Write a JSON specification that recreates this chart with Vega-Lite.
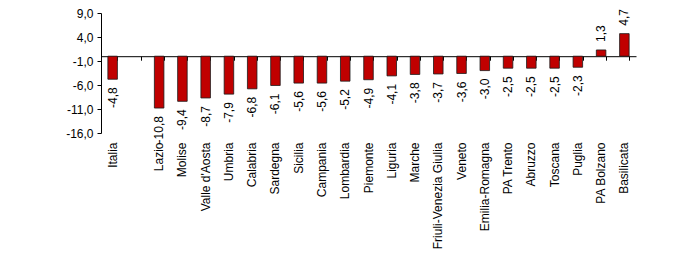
{
  "$schema": "https://vega.github.io/schema/vega-lite/v6.json",
  "width": 535,
  "height": 120,
  "autosize": "none",
  "padding": {"left": 101, "top": 13, "right": 64, "bottom": 127},
  "background": "white",
  "config": {
    "view": {"stroke": null},
    "font": "Liberation Sans",
    "axis": {"labelOverlap": false},
    "axisY": {"labelOverlap": false, "labelFlush": false},
    "locale": {"number": {"decimal": ",", "thousands": ".", "grouping": [3], "currency": ["", " €"], "minus": "-"}}
  },
  "data": {"values": [
    {"regione": "Italia", "valore": -4.8},
    {"regione": "Lazio", "valore": -10.8},
    {"regione": "Molise", "valore": -9.4},
    {"regione": "Valle d'Aosta", "valore": -8.7},
    {"regione": "Umbria", "valore": -7.9},
    {"regione": "Calabria", "valore": -6.8},
    {"regione": "Sardegna", "valore": -6.1},
    {"regione": "Sicilia", "valore": -5.6},
    {"regione": "Campania", "valore": -5.6},
    {"regione": "Lombardia", "valore": -5.2},
    {"regione": "Piemonte", "valore": -4.9},
    {"regione": "Liguria", "valore": -4.1},
    {"regione": "Marche", "valore": -3.8},
    {"regione": "Friuli-Venezia Giulia", "valore": -3.7},
    {"regione": "Veneto", "valore": -3.6},
    {"regione": "Emilia-Romagna", "valore": -3.0},
    {"regione": "PA Trento", "valore": -2.5},
    {"regione": "Abruzzo", "valore": -2.5},
    {"regione": "Toscana", "valore": -2.5},
    {"regione": "Puglia", "valore": -2.3},
    {"regione": "PA Bolzano", "valore": 1.3},
    {"regione": "Basilicata", "valore": 4.7}
  ]},
  "resolve": {"axis": {"x": "independent"}},
  "layer": [
    {
      "mark": {"type": "bar", "fill": "#C00000", "stroke": "#1a1a1a", "strokeWidth": 0.8},
      "encoding": {
        "x": {
          "field": "regione", "type": "nominal",
          "scale": {
            "domain": ["Italia", " ", "Lazio", "Molise", "Valle d'Aosta", "Umbria", "Calabria", "Sardegna", "Sicilia", "Campania", "Lombardia", "Piemonte", "Liguria", "Marche", "Friuli-Venezia Giulia", "Veneto", "Emilia-Romagna", "PA Trento", "Abruzzo", "Toscana", "Puglia", "PA Bolzano", "Basilicata"],
            "paddingInner": 0.59, "paddingOuter": 0.295
          },
          "axis": {
            "orient": "bottom", "title": null, "domain": false, "ticks": false,
            "labelAngle": -90, "labelAlign": "right", "labelBaseline": "middle",
            "labelPadding": 9, "labelFontSize": 12, "labelColor": "black", "labelOverlap": false
          }
        },
        "y": {
          "field": "valore", "type": "quantitative",
          "scale": {"domain": [-16, 9], "nice": false},
          "axis": {
            "title": null, "grid": false, "values": [9, 4, -1, -6, -11, -16], "format": ".1f",
            "domainColor": "black", "tickColor": "black", "tickSize": 4, "labelPadding": 4,
            "labelFontSize": 12, "labelColor": "black", "labelOverlap": false, "labelFlush": false
          }
        }
      }
    },
    {
      "transform": [{"filter": "datum.valore < 0"}],
      "mark": {"type": "text", "angle": 270, "align": "right", "baseline": "middle", "dx": -8, "fontSize": 12, "color": "black"},
      "encoding": {
        "x": {
          "field": "regione", "type": "nominal",
          "axis": {
            "orient": "bottom", "offset": -76.8, "title": null, "labels": false,
            "domain": true, "domainColor": "black", "ticks": true, "tickBand": "extent",
            "tickColor": "black", "tickSize": 4
          }
        },
        "y": {
          "field": "valore", "type": "quantitative",
          "axis": {
            "title": null, "grid": false, "values": [9, 4, -1, -6, -11, -16], "format": ".1f",
            "domainColor": "black", "tickColor": "black", "tickSize": 4, "labelPadding": 4,
            "labelFontSize": 12, "labelColor": "black", "labelOverlap": false, "labelFlush": false
          }
        },
        "text": {"field": "valore", "type": "quantitative", "format": ".1f"}
      }
    },
    {
      "transform": [{"filter": "datum.valore >= 0"}],
      "mark": {"type": "text", "angle": 270, "align": "left", "baseline": "middle", "dx": 8, "fontSize": 12, "color": "black"},
      "encoding": {
        "x": {"field": "regione", "type": "nominal", "axis": null},
        "y": {
          "field": "valore", "type": "quantitative",
          "axis": {
            "title": null, "grid": false, "values": [9, 4, -1, -6, -11, -16], "format": ".1f",
            "domainColor": "black", "tickColor": "black", "tickSize": 4, "labelPadding": 4,
            "labelFontSize": 12, "labelColor": "black", "labelOverlap": false, "labelFlush": false
          }
        },
        "text": {"field": "valore", "type": "quantitative", "format": ".1f"}
      }
    }
  ]
}
